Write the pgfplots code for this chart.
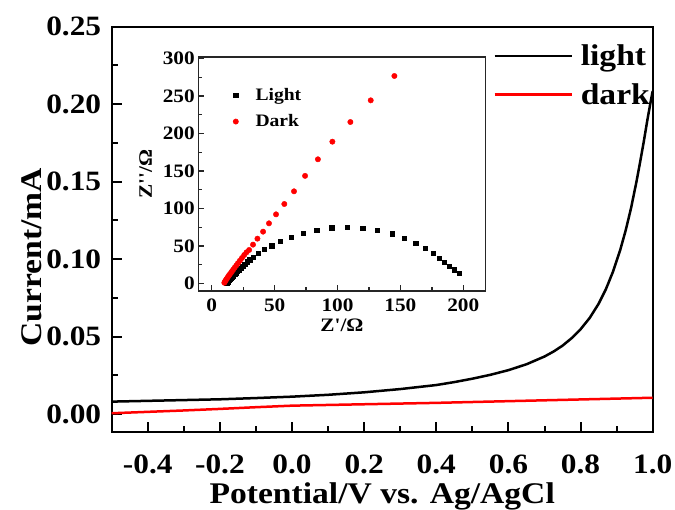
\documentclass[border=0pt]{standalone}
\usepackage{pgfplots}
\pgfplotsset{compat=1.18}
\usepackage{fontspec}
\setmainfont{Liberation Serif}[FakeStretch=1.12,Ligatures=TeXOff]
\begin{document}
\begin{tikzpicture}
\useasboundingbox (0pt,0pt) rectangle (675pt,510pt);
\begin{axis}[
  at={(111.7pt,78.3pt)}, anchor=south west,
  scale only axis, width=541pt, height=405pt,
  xmin=-0.5, xmax=1.0, ymin=-0.0113, ymax=0.25,
  axis line style={line width=2pt},
  xtick={-0.4,-0.2,0,0.2,0.4,0.6,0.8,1.0},
  ytick={0,0.05,0.1,0.15,0.2,0.25},
  minor xtick={-0.5,-0.3,-0.1,0.1,0.3,0.5,0.7,0.9},
  minor ytick={0.025,0.075,0.125,0.175,0.225},
  xtick align=inside, ytick align=inside,
  xtick pos=left, ytick pos=left,
  major tick length=10pt, minor tick length=6pt,
  major tick style={line width=2pt, draw=black},
  minor tick style={line width=2pt, draw=black},
  /pgf/number format/assume math mode=true,
  tick label style={font=\bfseries\fontsize{28}{28}\selectfont},
  xticklabel style={/pgf/number format/.cd, fixed, fixed zerofill, precision=1, /tikz/.cd, yshift=-20pt},
  yticklabel style={/pgf/number format/.cd, fixed, fixed zerofill, precision=2, /tikz/.cd, xshift=-7pt},
  scaled y ticks=false, scaled x ticks=false,
  xlabel={Potential/V vs. Ag/AgCl}, ylabel={Current/mA},
  label style={font=\bfseries\fontsize{30}{30}\selectfont},
  xlabel style={yshift=-2pt},
  ylabel style={xshift=-28pt, yshift=-2pt},
  legend style={at={(0.705,0.96)}, anchor=north west, draw=none, fill=none,
    font=\bfseries\fontsize{30}{30}\selectfont, row sep=12pt, inner sep=0pt,
    /tikz/every odd column/.append style={column sep=6pt}},
  legend cell align=left,
  legend image code/.code={\draw[#1] (0pt,0pt) -- (77pt,0pt);},
]
\addplot[black, line width=2.5pt] coordinates {
(-0.5,0.0081) (-0.4,0.0086) (-0.3,0.0091) (-0.2,0.0096) (-0.1,0.0104) (0.0,0.0113)
(0.1,0.0125) (0.2,0.0141) (0.3,0.0162) (0.4,0.0188) (0.45,0.0207) (0.5,0.0229)
(0.55,0.0254) (0.6,0.0284) (0.65,0.0322) (0.7,0.0372) (0.725,0.0404) (0.75,0.0442)
(0.775,0.0490) (0.8,0.0548) (0.825,0.0620) (0.85,0.0712) (0.87,0.0805) (0.89,0.0920)
(0.91,0.1060) (0.925,0.1185) (0.94,0.1330) (0.955,0.1500) (0.965,0.1625)
(0.975,0.1755) (0.985,0.1895) (0.995,0.2025) (1.0,0.2085)};
\addlegendentry{light}
\addplot[red, line width=2.5pt] coordinates {
(-0.5,0.0006) (-0.4,0.0015) (-0.3,0.0024) (-0.2,0.0034) (-0.1,0.0045) (0.0,0.0055)
(0.2,0.0064) (0.4,0.0073) (0.6,0.0084) (0.8,0.0095) (1.0,0.0106)};
\addlegendentry{dark}
\end{axis}
\begin{axis}[
  at={(198.3pt,219pt)}, anchor=south west,
  scale only axis, width=287.4pt, height=234pt,
  xmin=-10.7, xmax=217.8, ymin=-10, ymax=302,
  xtick={0,50,100,150,200}, ytick={0,50,100,150,200,250,300},
  minor xtick={25,75,125,175}, minor ytick={25,75,125,175,225,275},
  xtick align=inside, ytick align=inside,
  xtick pos=left, ytick pos=left,
  major tick length=6pt, minor tick length=3.5pt,
  major tick style={line width=1.3pt, draw=black!85},
  minor tick style={line width=1.3pt, draw=black!85},
  axis line style={line width=1.3pt, black!85},
  axis background/.style={fill=white},
  /pgf/number format/assume math mode=true,
  tick label style={font=\bfseries\fontsize{19}{19}\selectfont},
  xticklabel style={yshift=-4pt},
  xlabel={Z'/Ω}, ylabel={Z''/Ω},
  label style={font=\bfseries\fontsize{19}{19}\selectfont},
  xlabel style={yshift=-1pt}, ylabel style={yshift=4pt},
  legend style={at={(0.11,0.885)}, anchor=north west, draw=none, fill=none,
    font=\bfseries\fontsize{17.5}{17.5}\selectfont, row sep=9pt,
    /tikz/every odd column/.append style={column sep=15pt}},
  legend cell align=left,
]
\addplot[only marks, mark=square*, mark size=2.2pt, black] coordinates {
(12,1) (12.6,2) (13.2,3.2) (13.9,4.5) (14.6,5.8) (15.4,7.2) (16.2,8.7) (17.1,10.2)
(18.1,12) (19.2,14) (20.4,16) (21.7,18.3) (23.1,20.7) (24.6,23.3) (26.3,26)
(28.2,28.8) (30.3,31.8) (32.8,34.9) (37.1,40.2) (41.8,45.6) (47.7,50.5) (54.5,56.2)
(63.0,61.6) (72.8,67.2) (83.5,71.0) (95.4,74.4) (107.5,75.3) (120.0,74.0)
(131.6,70.9) (143.3,66.4) (153.1,60.7) (162.2,54.0) (169.8,47.3) (176.2,40.3)
(180.7,34.0) (184.7,28.3) (188.6,22.9) (192.6,18.4) (196.6,13.6)};
\addlegendentry{Light}
\addplot[only marks, mark=*, mark size=2.7pt, red] coordinates {
(10,1) (10.5,2.5) (11,4) (11.6,5.5) (12.2,7) (12.9,8.8) (13.6,10.5) (14.4,12.3)
(15.3,14.3) (16.2,16.5) (17.2,18.8) (18.3,21.3) (19.5,24) (20.8,27) (22.3,30.3)
(24,34) (25.8,38) (27.6,41.5) (29.7,44.7) (32.8,51.8) (36.3,59.8) (40.8,69.1)
(45.5,80.2) (51.1,92.2) (57.7,106) (65.4,122.9) (74.2,143.5) (84.4,165.6)
(95.9,189.1) (110.2,215.3) (126.4,244.2) (145.2,276.7)};
\addlegendentry{Dark}
\end{axis}
\end{tikzpicture}
\end{document}
